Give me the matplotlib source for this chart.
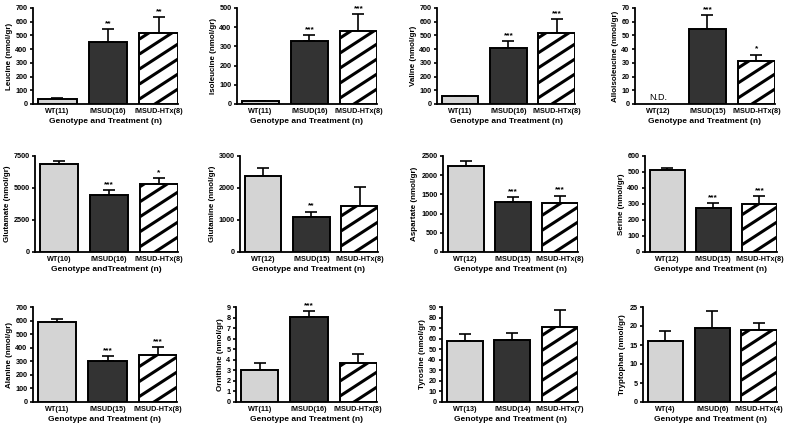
import numpy as np
import matplotlib
matplotlib.use("Agg")
import matplotlib.pyplot as plt
from matplotlib.lines import Line2D
from matplotlib.transforms import IdentityTransform

plt.rcParams['font.family'] = ['Liberation Sans', 'DejaVu Sans']

# ---- data ----
groups = ["WT", "iMSUD", "iMSUD-HTx"]

leucine = [40, 455, 515]
leucine_err = [5, 90, 120]
leucine_n = [11, 16, 8]
leucine_sig = ["", "**", "**"]

isoleucine = [15, 330, 382]
isoleucine_err = [2, 30, 85]
isoleucine_n = [11, 16, 8]
isoleucine_sig = ["", "***", "***"]

valine = [58, 405, 515]
valine_err = [3, 55, 105]
valine_n = [11, 16, 8]
valine_sig = ["", "***", "***"]

alloisoleucine = [np.nan, 55, 31.5]
alloisoleucine_err = [0, 10, 4.5]
alloisoleucine_n = [12, 15, 8]
alloisoleucine_sig = ["", "***", "*"]

glutamate = [6850, 4450, 5300]
glutamate_err = [250, 400, 450]
glutamate_n = [10, 16, 8]
glutamate_sig = ["", "***", "*"]

glutamine = [2370, 1080, 1450]
glutamine_err = [250, 180, 580]
glutamine_n = [12, 15, 8]
glutamine_sig = ["", "**", ""]

aspartate = [2230, 1300, 1280]
aspartate_err = [130, 120, 190]
aspartate_n = [12, 15, 8]
aspartate_sig = ["", "***", "***"]

serine = [512, 278, 298]
serine_err = [16, 29, 49]
serine_n = [12, 15, 8]
serine_sig = ["", "***", "***"]

alanine = [590, 305, 345]
alanine_err = [23, 32, 57]
alanine_n = [11, 15, 8]
alanine_sig = ["", "***", "***"]

ornithine = [3.05, 8.05, 3.65]
ornithine_err = [0.65, 0.55, 0.9]
ornithine_n = [11, 16, 8]
ornithine_sig = ["", "***", ""]

tyrosine = [58, 58.5, 71]
tyrosine_err = [6, 6.5, 16]
tyrosine_n = [13, 14, 7]
tyrosine_sig = ["", "", ""]

tryptophan = [16, 19.6, 18.9]
tryptophan_err = [2.8, 4.4, 2.0]
tryptophan_n = [4, 6, 4]
tryptophan_sig = ["", "", ""]

panels = [
    ("Leucine (nmol/gr)", leucine, leucine_err, leucine_n, leucine_sig, 700, 100, "Genotype and Treatment (n)"),
    ("Isoleucine (nmol/gr)", isoleucine, isoleucine_err, isoleucine_n, isoleucine_sig, 500, 100, "Genotype and Treatment (n)"),
    ("Valine (nmol/gr)", valine, valine_err, valine_n, valine_sig, 700, 100, "Genotype and Treatment (n)"),
    ("Alloisoleucine (nmol/gr)", alloisoleucine, alloisoleucine_err, alloisoleucine_n, alloisoleucine_sig, 70, 10, "Genotype and Treatment (n)"),
    ("Glutamate (nmol/gr)", glutamate, glutamate_err, glutamate_n, glutamate_sig, 7500, 2500, "Genotype andTreatment (n)"),
    ("Glutamine (nmol/gr)", glutamine, glutamine_err, glutamine_n, glutamine_sig, 3000, 1000, "Genotype and Treatment (n)"),
    ("Aspartate (nmol/gr)", aspartate, aspartate_err, aspartate_n, aspartate_sig, 2500, 500, "Genotype and Treatment (n)"),
    ("Serine (nmol/gr)", serine, serine_err, serine_n, serine_sig, 600, 100, "Genotype and Treatment (n)"),
    ("Alanine (nmol/gr)", alanine, alanine_err, alanine_n, alanine_sig, 700, 100, "Genotype and Treatment (n)"),
    ("Ornithine (nmol/gr)", ornithine, ornithine_err, ornithine_n, ornithine_sig, 9, 1, "Genotype and Treatment (n)"),
    ("Tyrosine (nmol/gr)", tyrosine, tyrosine_err, tyrosine_n, tyrosine_sig, 90, 10, "Genotype and Treatment (n)"),
    ("Tryptophan (nmol/gr)", tryptophan, tryptophan_err, tryptophan_n, tryptophan_sig, 25, 5, "Genotype and Treatment (n)"),
]

# ---- layout (pixel boxes: left, right, top, bottom) ----
W, H = 795, 430
boxes = [
    (33, 178, 8, 104), (237, 377, 8, 104), (437, 575, 8, 104), (635, 775, 8, 104),
    (35, 178, 156, 252), (240, 378, 156, 252), (443, 578, 156, 252), (645, 777, 156, 252),
    (33, 177, 307, 402), (236, 377, 307, 402), (442, 578, 307, 402), (643, 777, 307, 402),
]

fig = plt.figure(figsize=(W / 100, H / 100), dpi=100)

bar_w = 0.76
colors = ["#d4d4d4", "#333333", "white"]


def add_stripes(ax, bar, spacing=15, slope=0.65, lw=2.2):
    # diagonal stripes drawn in pixel space and clipped to the bar
    bb = bar.get_window_extent()
    x0, x1, y0, y1 = bb.x0, bb.x1, bb.y0, bb.y1
    c = y0 - slope * (x1 - x0) - spacing
    while c < y1 + spacing:
        ln = Line2D([x0, x1], [c, c + slope * (x1 - x0)], color="black", lw=lw,
                    transform=IdentityTransform(), solid_capstyle="butt")
        ln.set_clip_path(bar)
        fig.add_artist(ln)
        c += spacing


for (ylab, vals, errs, ns, sig, ymax, ystep, xlab), (l, r, t, b) in zip(panels, boxes):
    ax = fig.add_axes([l / W, 1 - b / H, (r - l) / W, (b - t) / H])
    x = np.arange(3)
    v = np.nan_to_num(np.array(vals, dtype=float))
    bars = ax.bar(x, v, width=bar_w, color=colors, edgecolor="black", linewidth=1.4, zorder=3)
    for i in range(3):
        if np.isnan(vals[i]):
            bars[i].set_visible(False)
            ax.text(x[i], ymax * 0.02, "N.D.", ha="center", va="bottom", fontsize=6.5)
            continue
        ax.errorbar(x[i], vals[i], yerr=[[0], [errs[i]]], fmt="none", ecolor="black",
                    elinewidth=1.2, capsize=4.5, capthick=1.2, zorder=2)
        if sig[i]:
            ax.annotate(sig[i], (x[i], vals[i] + errs[i]), xytext=(0, 1.5),
                        textcoords="offset points", ha="center", va="bottom",
                        fontsize=6, fontweight="bold")
    ax.set_ylim(0, ymax)
    ax.set_yticks(np.arange(0, ymax + ystep / 2, ystep))
    ax.set_xlim(-0.48, 2 + bar_w / 2)
    ax.set_xticks(x)
    ax.set_xticklabels([f"{g}({n})" for g, n in zip(groups, ns)])
    ax.set_ylabel(ylab, fontsize=5.8, fontweight="bold", labelpad=2)
    ax.set_xlabel(xlab, fontsize=6, fontweight="bold", labelpad=2)
    for lbl in ax.get_xticklabels() + ax.get_yticklabels():
        lbl.set_fontweight("bold")
    ax.tick_params(axis="both", labelsize=5.2, width=1.2, length=2.5, pad=1.5)
    ax.tick_params(axis="x", length=0, pad=3)
    ax.spines["top"].set_visible(False)
    ax.spines["right"].set_visible(False)
    ax.spines["left"].set_linewidth(1.3)
    ax.spines["bottom"].set_linewidth(1.3)
    ax.patch.set_alpha(0)
    add_stripes(ax, bars[2])

fig.savefig("out.png", dpi=100)
